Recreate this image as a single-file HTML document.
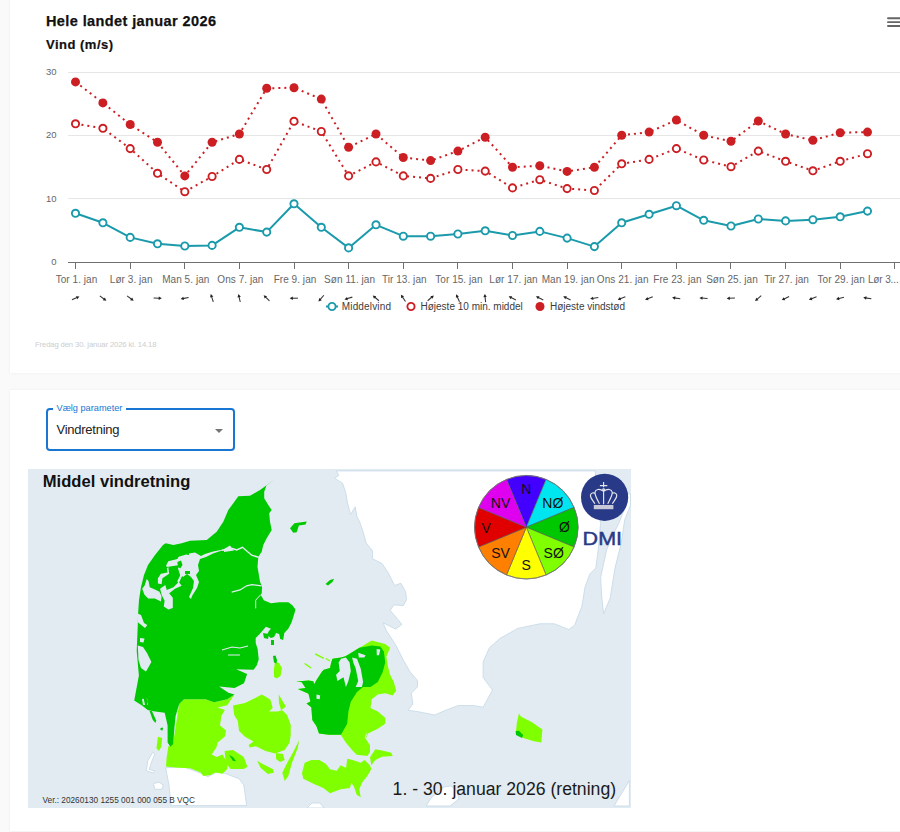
<!DOCTYPE html>
<html><head><meta charset="utf-8"><style>
html,body{margin:0;padding:0;}
body{width:900px;height:832px;overflow:hidden;background:#fafafa;position:relative;font-family:"Liberation Sans",sans-serif;}
.card{position:absolute;left:10px;right:-10px;background:#fff;box-shadow:0 0 3px rgba(0,0,0,0.06);}
#c1{top:-10px;height:383px;}
#c2{top:390px;height:441px;}
.chart{position:absolute;left:0;top:0;}
.t1{position:absolute;left:46px;top:13px;font-size:14.5px;letter-spacing:0.4px;font-weight:bold;color:#111;white-space:nowrap;-webkit-text-stroke:0.25px #111;}
.t2{position:absolute;left:46px;top:37.3px;font-size:13px;letter-spacing:0.5px;font-weight:bold;color:#111;white-space:nowrap;-webkit-text-stroke:0.2px #111;}
.foot{position:absolute;left:35px;top:339.5px;font-size:7.7px;letter-spacing:-0.13px;color:#cdcdcd;white-space:nowrap;}
.sel{position:absolute;left:46px;top:408px;width:185px;height:39px;border:2px solid #1976d2;border-radius:4px;}
.sel .lg{position:absolute;left:5px;top:-8px;background:#fff;padding:0 3.5px;font-size:9.2px;color:#1976d2;white-space:nowrap;line-height:12px;}
.sel .val{position:absolute;left:8.5px;top:12px;font-size:13px;letter-spacing:-0.25px;color:#222;white-space:nowrap;}
.sel .arr{position:absolute;left:167px;top:19px;width:0;height:0;border-left:4px solid transparent;border-right:4px solid transparent;border-top:4px solid #757575;}
.map{position:absolute;left:28px;top:469px;}
</style></head><body>
<div class="card" id="c1"></div>
<div class="card" id="c2"></div>
<svg class="chart" width="900" height="373" viewBox="0 0 900 373" font-family="Liberation Sans, sans-serif"><path d="M68 198.5H900" stroke="#e6e6e6" stroke-width="1"/><path d="M68 135.5H900" stroke="#e6e6e6" stroke-width="1"/><path d="M68 72.5H900" stroke="#e6e6e6" stroke-width="1"/><path d="M68 262.5H900" stroke="#707070" stroke-width="1"/><path d="M75.5 262V269" stroke="#707070" stroke-width="1"/><path d="M130.5 262V269" stroke="#707070" stroke-width="1"/><path d="M184.5 262V269" stroke="#707070" stroke-width="1"/><path d="M239.5 262V269" stroke="#707070" stroke-width="1"/><path d="M294.5 262V269" stroke="#707070" stroke-width="1"/><path d="M348.5 262V269" stroke="#707070" stroke-width="1"/><path d="M403.5 262V269" stroke="#707070" stroke-width="1"/><path d="M457.5 262V269" stroke="#707070" stroke-width="1"/><path d="M512.5 262V269" stroke="#707070" stroke-width="1"/><path d="M567.5 262V269" stroke="#707070" stroke-width="1"/><path d="M621.5 262V269" stroke="#707070" stroke-width="1"/><path d="M676.5 262V269" stroke="#707070" stroke-width="1"/><path d="M730.5 262V269" stroke="#707070" stroke-width="1"/><path d="M785.5 262V269" stroke="#707070" stroke-width="1"/><path d="M840.5 262V269" stroke="#707070" stroke-width="1"/><path d="M894.5 262V269" stroke="#707070" stroke-width="1"/><text x="56.6" y="265.3" text-anchor="end" fill="#666" font-size="9.5">0</text><text x="56.6" y="201.8" text-anchor="end" fill="#666" font-size="9.5">10</text><text x="56.6" y="138.4" text-anchor="end" fill="#666" font-size="9.5">20</text><text x="56.6" y="74.9" text-anchor="end" fill="#666" font-size="9.5">30</text><text x="898.6" y="282.5" text-anchor="end" fill="#666" font-size="10" letter-spacing="-0.12">Lør 3...</text><text x="76.5" y="282.5" text-anchor="middle" fill="#666" font-size="10" letter-spacing="0.05">Tor 1. jan</text><text x="131.2" y="282.5" text-anchor="middle" fill="#666" font-size="10" letter-spacing="0.05">Lør 3. jan</text><text x="185.8" y="282.5" text-anchor="middle" fill="#666" font-size="10" letter-spacing="0.05">Man 5. jan</text><text x="240.4" y="282.5" text-anchor="middle" fill="#666" font-size="10" letter-spacing="0.05">Ons 7. jan</text><text x="295.0" y="282.5" text-anchor="middle" fill="#666" font-size="10" letter-spacing="0.05">Fre 9. jan</text><text x="349.6" y="282.5" text-anchor="middle" fill="#666" font-size="10" letter-spacing="0.05">Søn 11. jan</text><text x="404.3" y="282.5" text-anchor="middle" fill="#666" font-size="10" letter-spacing="0.05">Tir 13. jan</text><text x="458.9" y="282.5" text-anchor="middle" fill="#666" font-size="10" letter-spacing="0.05">Tor 15. jan</text><text x="513.5" y="282.5" text-anchor="middle" fill="#666" font-size="10" letter-spacing="0.05">Lør 17. jan</text><text x="568.1" y="282.5" text-anchor="middle" fill="#666" font-size="10" letter-spacing="0.05">Man 19. jan</text><text x="622.7" y="282.5" text-anchor="middle" fill="#666" font-size="10" letter-spacing="0.05">Ons 21. jan</text><text x="677.4" y="282.5" text-anchor="middle" fill="#666" font-size="10" letter-spacing="0.05">Fre 23. jan</text><text x="732.0" y="282.5" text-anchor="middle" fill="#666" font-size="10" letter-spacing="0.05">Søn 25. jan</text><text x="786.6" y="282.5" text-anchor="middle" fill="#666" font-size="10" letter-spacing="0.05">Tir 27. jan</text><text x="841.2" y="282.5" text-anchor="middle" fill="#666" font-size="10" letter-spacing="0.05">Tor 29. jan</text><path d="M75.5 81.9 L102.9 102.9 L130.2 124.5 L157.5 142.2 L184.8 175.9 L212.1 142.2 L239.4 134.0 L266.7 88.3 L294.0 87.7 L321.3 99.1 L348.6 147.3 L376.0 134.0 L403.3 157.5 L430.6 160.6 L457.9 151.1 L485.2 137.2 L512.5 167.3 L539.8 165.7 L567.1 171.4 L594.4 167.3 L621.7 135.3 L649.1 132.1 L676.4 120.0 L703.7 135.3 L731.0 141.3 L758.3 121.0 L785.6 134.0 L812.9 140.3 L840.2 132.7 L867.5 132.1" fill="none" stroke="#cc1f23" stroke-width="2" stroke-dasharray="2,4"/><path d="M75.5 123.8 L102.9 128.3 L130.2 148.6 L157.5 173.3 L184.8 191.7 L212.1 176.5 L239.4 159.4 L266.7 169.5 L294.0 121.3 L321.3 131.5 L348.6 175.9 L376.0 161.9 L403.3 175.9 L430.6 178.4 L457.9 169.5 L485.2 171.1 L512.5 187.9 L539.8 179.7 L567.1 188.6 L594.4 190.5 L621.7 163.8 L649.1 159.4 L676.4 148.6 L703.7 160.0 L731.0 166.7 L758.3 151.1 L785.6 161.3 L812.9 170.8 L840.2 161.3 L867.5 153.7" fill="none" stroke="#cc1f23" stroke-width="2" stroke-dasharray="2,4"/><path d="M75.5 213.3 L102.9 222.8 L130.2 237.4 L157.5 243.8 L184.8 246.0 L212.1 245.4 L239.4 227.3 L266.7 232.1 L294.0 203.8 L321.3 227.3 L348.6 247.9 L376.0 224.8 L403.3 236.2 L430.6 236.2 L457.9 234.0 L485.2 230.8 L512.5 235.5 L539.8 231.4 L567.1 238.1 L594.4 246.6 L621.7 222.8 L649.1 214.3 L676.4 205.7 L703.7 220.3 L731.0 226.0 L758.3 219.0 L785.6 220.9 L812.9 219.7 L840.2 216.8 L867.5 211.1" fill="none" stroke="#1a9aab" stroke-width="2" stroke-linejoin="round"/><circle cx="75.5" cy="81.9" r="4.5" fill="#cc1f23"/><circle cx="102.9" cy="102.9" r="4.5" fill="#cc1f23"/><circle cx="130.2" cy="124.5" r="4.5" fill="#cc1f23"/><circle cx="157.5" cy="142.2" r="4.5" fill="#cc1f23"/><circle cx="184.8" cy="175.9" r="4.5" fill="#cc1f23"/><circle cx="212.1" cy="142.2" r="4.5" fill="#cc1f23"/><circle cx="239.4" cy="134.0" r="4.5" fill="#cc1f23"/><circle cx="266.7" cy="88.3" r="4.5" fill="#cc1f23"/><circle cx="294.0" cy="87.7" r="4.5" fill="#cc1f23"/><circle cx="321.3" cy="99.1" r="4.5" fill="#cc1f23"/><circle cx="348.6" cy="147.3" r="4.5" fill="#cc1f23"/><circle cx="376.0" cy="134.0" r="4.5" fill="#cc1f23"/><circle cx="403.3" cy="157.5" r="4.5" fill="#cc1f23"/><circle cx="430.6" cy="160.6" r="4.5" fill="#cc1f23"/><circle cx="457.9" cy="151.1" r="4.5" fill="#cc1f23"/><circle cx="485.2" cy="137.2" r="4.5" fill="#cc1f23"/><circle cx="512.5" cy="167.3" r="4.5" fill="#cc1f23"/><circle cx="539.8" cy="165.7" r="4.5" fill="#cc1f23"/><circle cx="567.1" cy="171.4" r="4.5" fill="#cc1f23"/><circle cx="594.4" cy="167.3" r="4.5" fill="#cc1f23"/><circle cx="621.7" cy="135.3" r="4.5" fill="#cc1f23"/><circle cx="649.1" cy="132.1" r="4.5" fill="#cc1f23"/><circle cx="676.4" cy="120.0" r="4.5" fill="#cc1f23"/><circle cx="703.7" cy="135.3" r="4.5" fill="#cc1f23"/><circle cx="731.0" cy="141.3" r="4.5" fill="#cc1f23"/><circle cx="758.3" cy="121.0" r="4.5" fill="#cc1f23"/><circle cx="785.6" cy="134.0" r="4.5" fill="#cc1f23"/><circle cx="812.9" cy="140.3" r="4.5" fill="#cc1f23"/><circle cx="840.2" cy="132.7" r="4.5" fill="#cc1f23"/><circle cx="867.5" cy="132.1" r="4.5" fill="#cc1f23"/><circle cx="75.5" cy="123.8" r="3.6" fill="#fff" stroke="#cc1f23" stroke-width="1.9"/><circle cx="102.9" cy="128.3" r="3.6" fill="#fff" stroke="#cc1f23" stroke-width="1.9"/><circle cx="130.2" cy="148.6" r="3.6" fill="#fff" stroke="#cc1f23" stroke-width="1.9"/><circle cx="157.5" cy="173.3" r="3.6" fill="#fff" stroke="#cc1f23" stroke-width="1.9"/><circle cx="184.8" cy="191.7" r="3.6" fill="#fff" stroke="#cc1f23" stroke-width="1.9"/><circle cx="212.1" cy="176.5" r="3.6" fill="#fff" stroke="#cc1f23" stroke-width="1.9"/><circle cx="239.4" cy="159.4" r="3.6" fill="#fff" stroke="#cc1f23" stroke-width="1.9"/><circle cx="266.7" cy="169.5" r="3.6" fill="#fff" stroke="#cc1f23" stroke-width="1.9"/><circle cx="294.0" cy="121.3" r="3.6" fill="#fff" stroke="#cc1f23" stroke-width="1.9"/><circle cx="321.3" cy="131.5" r="3.6" fill="#fff" stroke="#cc1f23" stroke-width="1.9"/><circle cx="348.6" cy="175.9" r="3.6" fill="#fff" stroke="#cc1f23" stroke-width="1.9"/><circle cx="376.0" cy="161.9" r="3.6" fill="#fff" stroke="#cc1f23" stroke-width="1.9"/><circle cx="403.3" cy="175.9" r="3.6" fill="#fff" stroke="#cc1f23" stroke-width="1.9"/><circle cx="430.6" cy="178.4" r="3.6" fill="#fff" stroke="#cc1f23" stroke-width="1.9"/><circle cx="457.9" cy="169.5" r="3.6" fill="#fff" stroke="#cc1f23" stroke-width="1.9"/><circle cx="485.2" cy="171.1" r="3.6" fill="#fff" stroke="#cc1f23" stroke-width="1.9"/><circle cx="512.5" cy="187.9" r="3.6" fill="#fff" stroke="#cc1f23" stroke-width="1.9"/><circle cx="539.8" cy="179.7" r="3.6" fill="#fff" stroke="#cc1f23" stroke-width="1.9"/><circle cx="567.1" cy="188.6" r="3.6" fill="#fff" stroke="#cc1f23" stroke-width="1.9"/><circle cx="594.4" cy="190.5" r="3.6" fill="#fff" stroke="#cc1f23" stroke-width="1.9"/><circle cx="621.7" cy="163.8" r="3.6" fill="#fff" stroke="#cc1f23" stroke-width="1.9"/><circle cx="649.1" cy="159.4" r="3.6" fill="#fff" stroke="#cc1f23" stroke-width="1.9"/><circle cx="676.4" cy="148.6" r="3.6" fill="#fff" stroke="#cc1f23" stroke-width="1.9"/><circle cx="703.7" cy="160.0" r="3.6" fill="#fff" stroke="#cc1f23" stroke-width="1.9"/><circle cx="731.0" cy="166.7" r="3.6" fill="#fff" stroke="#cc1f23" stroke-width="1.9"/><circle cx="758.3" cy="151.1" r="3.6" fill="#fff" stroke="#cc1f23" stroke-width="1.9"/><circle cx="785.6" cy="161.3" r="3.6" fill="#fff" stroke="#cc1f23" stroke-width="1.9"/><circle cx="812.9" cy="170.8" r="3.6" fill="#fff" stroke="#cc1f23" stroke-width="1.9"/><circle cx="840.2" cy="161.3" r="3.6" fill="#fff" stroke="#cc1f23" stroke-width="1.9"/><circle cx="867.5" cy="153.7" r="3.6" fill="#fff" stroke="#cc1f23" stroke-width="1.9"/><circle cx="75.5" cy="213.3" r="3.6" fill="#fff" stroke="#1a9aab" stroke-width="1.9"/><circle cx="102.9" cy="222.8" r="3.6" fill="#fff" stroke="#1a9aab" stroke-width="1.9"/><circle cx="130.2" cy="237.4" r="3.6" fill="#fff" stroke="#1a9aab" stroke-width="1.9"/><circle cx="157.5" cy="243.8" r="3.6" fill="#fff" stroke="#1a9aab" stroke-width="1.9"/><circle cx="184.8" cy="246.0" r="3.6" fill="#fff" stroke="#1a9aab" stroke-width="1.9"/><circle cx="212.1" cy="245.4" r="3.6" fill="#fff" stroke="#1a9aab" stroke-width="1.9"/><circle cx="239.4" cy="227.3" r="3.6" fill="#fff" stroke="#1a9aab" stroke-width="1.9"/><circle cx="266.7" cy="232.1" r="3.6" fill="#fff" stroke="#1a9aab" stroke-width="1.9"/><circle cx="294.0" cy="203.8" r="3.6" fill="#fff" stroke="#1a9aab" stroke-width="1.9"/><circle cx="321.3" cy="227.3" r="3.6" fill="#fff" stroke="#1a9aab" stroke-width="1.9"/><circle cx="348.6" cy="247.9" r="3.6" fill="#fff" stroke="#1a9aab" stroke-width="1.9"/><circle cx="376.0" cy="224.8" r="3.6" fill="#fff" stroke="#1a9aab" stroke-width="1.9"/><circle cx="403.3" cy="236.2" r="3.6" fill="#fff" stroke="#1a9aab" stroke-width="1.9"/><circle cx="430.6" cy="236.2" r="3.6" fill="#fff" stroke="#1a9aab" stroke-width="1.9"/><circle cx="457.9" cy="234.0" r="3.6" fill="#fff" stroke="#1a9aab" stroke-width="1.9"/><circle cx="485.2" cy="230.8" r="3.6" fill="#fff" stroke="#1a9aab" stroke-width="1.9"/><circle cx="512.5" cy="235.5" r="3.6" fill="#fff" stroke="#1a9aab" stroke-width="1.9"/><circle cx="539.8" cy="231.4" r="3.6" fill="#fff" stroke="#1a9aab" stroke-width="1.9"/><circle cx="567.1" cy="238.1" r="3.6" fill="#fff" stroke="#1a9aab" stroke-width="1.9"/><circle cx="594.4" cy="246.6" r="3.6" fill="#fff" stroke="#1a9aab" stroke-width="1.9"/><circle cx="621.7" cy="222.8" r="3.6" fill="#fff" stroke="#1a9aab" stroke-width="1.9"/><circle cx="649.1" cy="214.3" r="3.6" fill="#fff" stroke="#1a9aab" stroke-width="1.9"/><circle cx="676.4" cy="205.7" r="3.6" fill="#fff" stroke="#1a9aab" stroke-width="1.9"/><circle cx="703.7" cy="220.3" r="3.6" fill="#fff" stroke="#1a9aab" stroke-width="1.9"/><circle cx="731.0" cy="226.0" r="3.6" fill="#fff" stroke="#1a9aab" stroke-width="1.9"/><circle cx="758.3" cy="219.0" r="3.6" fill="#fff" stroke="#1a9aab" stroke-width="1.9"/><circle cx="785.6" cy="220.9" r="3.6" fill="#fff" stroke="#1a9aab" stroke-width="1.9"/><circle cx="812.9" cy="219.7" r="3.6" fill="#fff" stroke="#1a9aab" stroke-width="1.9"/><circle cx="840.2" cy="216.8" r="3.6" fill="#fff" stroke="#1a9aab" stroke-width="1.9"/><circle cx="867.5" cy="211.1" r="3.6" fill="#fff" stroke="#1a9aab" stroke-width="1.9"/><g transform="translate(75.5 298.2) rotate(-24)"><path d="M-3.9 0H2.2" stroke="#333" stroke-width="1.05"/><path d="M4.3 0L1.2 -1.7L1.2 1.7Z" fill="#222"/></g><g transform="translate(102.9 298.2) rotate(37)"><path d="M-3.9 0H2.2" stroke="#333" stroke-width="1.05"/><path d="M4.3 0L1.2 -1.7L1.2 1.7Z" fill="#222"/></g><g transform="translate(130.2 298.2) rotate(37)"><path d="M-3.9 0H2.2" stroke="#333" stroke-width="1.05"/><path d="M4.3 0L1.2 -1.7L1.2 1.7Z" fill="#222"/></g><g transform="translate(157.5 298.2) rotate(2)"><path d="M-3.9 0H2.2" stroke="#333" stroke-width="1.05"/><path d="M4.3 0L1.2 -1.7L1.2 1.7Z" fill="#222"/></g><g transform="translate(184.8 298.2) rotate(169)"><path d="M-3.9 0H2.2" stroke="#333" stroke-width="1.05"/><path d="M4.3 0L1.2 -1.7L1.2 1.7Z" fill="#222"/></g><g transform="translate(212.1 298.2) rotate(-108)"><path d="M-3.9 0H2.2" stroke="#333" stroke-width="1.05"/><path d="M4.3 0L1.2 -1.7L1.2 1.7Z" fill="#222"/></g><g transform="translate(239.4 298.2) rotate(-102.5)"><path d="M-3.9 0H2.2" stroke="#333" stroke-width="1.05"/><path d="M4.3 0L1.2 -1.7L1.2 1.7Z" fill="#222"/></g><g transform="translate(266.7 298.2) rotate(-135)"><path d="M-3.9 0H2.2" stroke="#333" stroke-width="1.05"/><path d="M4.3 0L1.2 -1.7L1.2 1.7Z" fill="#222"/></g><g transform="translate(294.0 298.2) rotate(180)"><path d="M-3.9 0H2.2" stroke="#333" stroke-width="1.05"/><path d="M4.3 0L1.2 -1.7L1.2 1.7Z" fill="#222"/></g><g transform="translate(321.3 298.2) rotate(131)"><path d="M-3.9 0H2.2" stroke="#333" stroke-width="1.05"/><path d="M4.3 0L1.2 -1.7L1.2 1.7Z" fill="#222"/></g><g transform="translate(348.6 298.2) rotate(164)"><path d="M-3.9 0H2.2" stroke="#333" stroke-width="1.05"/><path d="M4.3 0L1.2 -1.7L1.2 1.7Z" fill="#222"/></g><g transform="translate(376.0 298.2) rotate(-139)"><path d="M-3.9 0H2.2" stroke="#333" stroke-width="1.05"/><path d="M4.3 0L1.2 -1.7L1.2 1.7Z" fill="#222"/></g><g transform="translate(403.3 298.2) rotate(-124)"><path d="M-3.9 0H2.2" stroke="#333" stroke-width="1.05"/><path d="M4.3 0L1.2 -1.7L1.2 1.7Z" fill="#222"/></g><g transform="translate(430.6 298.2) rotate(-41)"><path d="M-3.9 0H2.2" stroke="#333" stroke-width="1.05"/><path d="M4.3 0L1.2 -1.7L1.2 1.7Z" fill="#222"/></g><g transform="translate(457.9 298.2) rotate(-114)"><path d="M-3.9 0H2.2" stroke="#333" stroke-width="1.05"/><path d="M4.3 0L1.2 -1.7L1.2 1.7Z" fill="#222"/></g><g transform="translate(485.2 298.2) rotate(-96)"><path d="M-3.9 0H2.2" stroke="#333" stroke-width="1.05"/><path d="M4.3 0L1.2 -1.7L1.2 1.7Z" fill="#222"/></g><g transform="translate(512.5 298.2) rotate(-153)"><path d="M-3.9 0H2.2" stroke="#333" stroke-width="1.05"/><path d="M4.3 0L1.2 -1.7L1.2 1.7Z" fill="#222"/></g><g transform="translate(539.8 298.2) rotate(-153)"><path d="M-3.9 0H2.2" stroke="#333" stroke-width="1.05"/><path d="M4.3 0L1.2 -1.7L1.2 1.7Z" fill="#222"/></g><g transform="translate(567.1 298.2) rotate(-153)"><path d="M-3.9 0H2.2" stroke="#333" stroke-width="1.05"/><path d="M4.3 0L1.2 -1.7L1.2 1.7Z" fill="#222"/></g><g transform="translate(594.4 298.2) rotate(171)"><path d="M-3.9 0H2.2" stroke="#333" stroke-width="1.05"/><path d="M4.3 0L1.2 -1.7L1.2 1.7Z" fill="#222"/></g><g transform="translate(621.7 298.2) rotate(159)"><path d="M-3.9 0H2.2" stroke="#333" stroke-width="1.05"/><path d="M4.3 0L1.2 -1.7L1.2 1.7Z" fill="#222"/></g><g transform="translate(649.1 298.2) rotate(159)"><path d="M-3.9 0H2.2" stroke="#333" stroke-width="1.05"/><path d="M4.3 0L1.2 -1.7L1.2 1.7Z" fill="#222"/></g><g transform="translate(676.4 298.2) rotate(-172)"><path d="M-3.9 0H2.2" stroke="#333" stroke-width="1.05"/><path d="M4.3 0L1.2 -1.7L1.2 1.7Z" fill="#222"/></g><g transform="translate(703.7 298.2) rotate(-177)"><path d="M-3.9 0H2.2" stroke="#333" stroke-width="1.05"/><path d="M4.3 0L1.2 -1.7L1.2 1.7Z" fill="#222"/></g><g transform="translate(731.0 298.2) rotate(177)"><path d="M-3.9 0H2.2" stroke="#333" stroke-width="1.05"/><path d="M4.3 0L1.2 -1.7L1.2 1.7Z" fill="#222"/></g><g transform="translate(758.3 298.2) rotate(139)"><path d="M-3.9 0H2.2" stroke="#333" stroke-width="1.05"/><path d="M4.3 0L1.2 -1.7L1.2 1.7Z" fill="#222"/></g><g transform="translate(785.6 298.2) rotate(154)"><path d="M-3.9 0H2.2" stroke="#333" stroke-width="1.05"/><path d="M4.3 0L1.2 -1.7L1.2 1.7Z" fill="#222"/></g><g transform="translate(812.9 298.2) rotate(159)"><path d="M-3.9 0H2.2" stroke="#333" stroke-width="1.05"/><path d="M4.3 0L1.2 -1.7L1.2 1.7Z" fill="#222"/></g><g transform="translate(840.2 298.2) rotate(165)"><path d="M-3.9 0H2.2" stroke="#333" stroke-width="1.05"/><path d="M4.3 0L1.2 -1.7L1.2 1.7Z" fill="#222"/></g><g transform="translate(867.5 298.2) rotate(-172)"><path d="M-3.9 0H2.2" stroke="#333" stroke-width="1.05"/><path d="M4.3 0L1.2 -1.7L1.2 1.7Z" fill="#222"/></g><path d="M326 306.5H338" stroke="#1a9aab" stroke-width="2"/><circle cx="332" cy="306.5" r="3.6" fill="#fff" stroke="#1a9aab" stroke-width="1.9"/><text x="341.8" y="310.3" letter-spacing="0.15" fill="#3c3c3c" font-size="10">Middelvind</text><circle cx="411" cy="306.5" r="3.6" fill="#fff" stroke="#cc1f23" stroke-width="1.9"/><text x="420.5" y="310.3" fill="#3c3c3c" font-size="10">Højeste 10 min. middel</text><circle cx="540" cy="306.5" r="4.5" fill="#cc1f23"/><text x="550" y="310.3" fill="#3c3c3c" font-size="10">Højeste vindstød</text><path d="M888 18.3H901M888 22.15H901M888 26H901" stroke="#666" stroke-width="1.9" stroke-linecap="round"/></svg>
<div class="t1">Hele landet januar 2026</div>
<div class="t2">Vind (m/s)</div>
<div class="foot">Fredag den 30. januar 2026 kl. 14.18</div>
<div class="sel"><div class="lg">Vælg parameter</div><div class="val">Vindretning</div><div class="arr"></div></div>
<svg class="map" width="603" height="339" viewBox="28 469 603 339" font-family="Liberation Sans, sans-serif"><rect x="28" y="469" width="603" height="339" fill="#e1ebf1"/><path d="M336.3 470.9 L338.7 475.3 L334.7 478.4 L342.6 483.2 L345.7 492.6 L347.3 502.1 L350.5 514.7 L355.2 506.8 L356.8 516.2 L359.9 522.5 L363.1 532.0 L366.2 543.0 L372.5 550.9 L372.5 558.8 L382.0 563.5 L388.3 572.9 L394.6 585.5 L400.9 583.2 L405.6 591.8 L406.6 599.4 L403.4 605.6 L394.0 604.8 L390.2 610.3 L401.9 624.4 L395.6 629.1 L383.1 622.8 L386.3 630.6 L395.6 644.7 L403.4 660.3 L409.7 671.3 L417.5 680.6 L417.5 686.9 L411.3 693.1 L412.8 704.1 L408.1 710.3 L419.1 711.9 L434.7 715.0 L445.6 710.3 L458.1 705.6 L473.8 705.6 L483.1 707.2 L492.5 690.0 L483.1 677.5 L483.1 661.9 L489.4 647.8 L500.0 638.4 L517.9 628.4 L540.0 623.8 L554.4 623.8 L568.8 629.6 L574.6 625.3 L581.8 606.5 L585.0 587.3 L589.8 574.0 L595.8 568.0 L598.2 550.0 L600.6 523.6 L598.0 505.0 L595.4 474.0 L595.4 470.9Z" fill="#ffffff" stroke="#c8dbe9" stroke-width="0.9"/><path d="M627.0 494.0 L630.5 494.0 L630.5 505.0 L624.7 520.0 L621.0 544.0 L615.0 568.0 L610.2 598.1 L603.6 613.8 L601.8 598.1 L600.6 577.7 L606.6 550.0 L611.4 538.0 L618.7 523.6 L624.0 510.0Z" fill="#ffffff" stroke="#c8dbe9" stroke-width="0.9"/><path d="M165.6 767.8 L183.3 766.7 L201.1 773.3 L207.8 776.7 L218.9 771.1 L229.4 775.1 L239.0 778.7 L243.8 785.0 L246.7 805.6 L171.1 805.6 L168.9 784.4Z" fill="#ffffff" stroke="#c8dbe9" stroke-width="0.9"/><path d="M152.7 752.4 L154.8 753.8 L152.0 760.9 L149.1 769.4 L154.8 770.9 L153.4 773.0 L146.3 770.9 L147.7 760.9Z" fill="#ffffff" stroke="#c8dbe9" stroke-width="0.9"/><path d="M153.4 783.6 L159.0 782.2 L163.3 785.0 L161.9 789.3 L154.8 789.3Z" fill="#ffffff" stroke="#c8dbe9" stroke-width="0.9"/><path d="M307.0 808.0 L312.0 803.0 L320.0 803.0 L324.0 808.0Z" fill="#ffffff" stroke="#c8dbe9" stroke-width="0.9"/><path d="M614.0 806.0 L629.4 780.5 L629.4 806.0Z" fill="#ffffff" stroke="#c8dbe9" stroke-width="0.9"/><path d="M426.0 806.0 L431.0 798.0 L437.0 793.0 L444.0 787.0 L451.0 786.0 L457.0 791.0 L459.0 799.0 L450.0 806.0Z" fill="#ffffff" stroke="#c8dbe9" stroke-width="0.9"/><path d="M179.2 704.0 L184.0 699.2 L205.6 699.2 L214.0 702.2 L227.3 699.2 L234.5 694.4 L232.0 698.0 L227.3 705.2 L217.7 707.6 L224.9 710.0 L221.3 716.0 L220.0 725.6 L226.1 730.5 L224.9 736.5 L217.7 742.5 L216.5 747.3 L211.7 754.5 L216.5 756.9 L222.5 754.5 L227.3 762.9 L227.3 768.9 L222.5 773.7 L215.3 772.5 L210.5 774.9 L203.2 776.1 L200.8 772.5 L190.0 768.3 L178.0 767.7 L166.0 766.5 L166.6 758.1 L168.4 746.1 L170.8 746.1 L173.2 742.5Z" fill="#80ff00" /><path d="M275.0 479.2 L266.7 485.0 L264.2 491.7 L264.2 498.3 L268.3 505.0 L271.7 510.0 L269.2 513.3 L270.0 521.7 L271.7 530.0 L266.7 538.3 L263.3 545.0 L261.7 551.7 L258.3 556.7 L257.5 566.7 L260.0 581.7 L262.1 586.7 L261.7 593.3 L260.8 595.1 L263.8 600.2 L271.0 603.3 L279.2 602.3 L288.3 602.3 L292.4 605.3 L295.5 609.4 L293.5 616.6 L291.4 622.7 L288.3 628.8 L284.3 632.9 L283.2 640.1 L280.2 639.0 L279.2 633.9 L276.1 632.9 L274.0 637.0 L271.0 638.0 L266.9 635.0 L268.9 630.9 L271.0 628.8 L265.9 626.8 L259.7 633.9 L255.7 638.0 L255.7 643.1 L257.7 649.3 L258.7 659.5 L256.7 665.6 L253.6 669.7 L236.2 669.3 L247.1 674.0 L244.0 683.3 L234.6 688.0 L219.1 686.4 L228.4 692.7 L234.5 694.4 L227.3 699.2 L214.0 702.2 L205.6 699.2 L184.0 699.2 L179.2 704.0 L175.6 716.0 L174.4 728.0 L173.2 743.9 L170.4 746.7 L167.6 742.5 L167.6 725.5 L164.7 712.7 L153.4 711.3 L147.7 709.9 L142.0 705.6 L134.2 700.6 L138.9 675.6 L136.7 651.0 L137.8 624.4 L138.0 615.0 L139.0 600.0 L141.0 587.0 L144.0 575.0 L148.0 565.0 L155.0 555.0 L163.0 545.0 L165.8 543.3 L173.3 545.0 L181.7 543.3 L190.0 540.8 L206.7 540.0 L216.7 531.7 L223.3 521.7 L228.3 510.0 L233.3 503.3 L238.3 496.3 L250.0 495.8 L260.0 490.0Z" fill="#00c800" /><path d="M142.2 588.7 L144.5 585.8 L146.7 579.1 L148.6 581.3 L149.7 587.3 L154.9 589.5 L159.4 591.7 L161.6 596.2 L160.9 601.4 L154.9 598.4 L148.2 598.4 L144.5 594.7Z" fill="#e1ebf1" /><path d="M160.1 588.7 L165.3 585.0 L166.8 590.2 L169.1 593.2 L172.8 597.7 L172.8 608.1 L168.3 609.6 L163.8 606.6 L164.6 600.7 L161.6 594.7Z" fill="#e1ebf1" /><path d="M166.1 590.2 L173.5 587.3 L178.7 582.0 L181.7 585.8 L175.0 588.7 L168.3 594.0Z" fill="#e1ebf1" /><path d="M157.9 578.3 L160.9 573.8 L167.6 572.4 L166.8 568.6 L168.3 567.1 L169.1 573.8 L162.4 578.3 L161.6 584.3 L157.9 583.5Z" fill="#e1ebf1" /><path d="M166.1 565.6 L168.3 561.2 L177.3 558.9 L178.7 556.7 L186.2 554.5 L190.0 555.2 L190.0 572.4 L186.2 572.4 L181.7 576.8 L178.7 583.5 L177.3 581.3 L180.2 575.3 L178.0 568.6 L180.2 564.9 L176.5 565.6 L166.8 567.1Z" fill="#e1ebf1" /><path d="M177.3 561.9 L181.0 560.4 L182.5 564.9 L180.2 568.6 L178.0 566.4Z" fill="#00c800" /><path d="M185.5 572.4 L190.0 571.6 L190.0 576.1 L186.9 576.1Z" fill="#00c800" /><path d="M189.0 553.5 L195.0 552.5 L201.0 556.0 L205.0 554.0 L213.0 551.5 L223.0 549.5 L225.0 549.5 L213.0 553.5 L206.0 557.0 L200.0 559.0 L198.0 565.0 L199.0 571.0 L196.0 575.0 L199.0 582.0 L197.0 588.0 L192.0 596.0 L191.0 599.0 L189.0 597.0 L193.0 588.0 L194.0 581.0 L191.0 577.0 L187.0 574.0 L183.0 577.0 L181.0 574.0 L184.0 568.0 L188.0 563.0 L189.0 557.0Z" fill="#e1ebf1" /><path d="M185.0 571.0 L190.0 571.0 L190.0 574.0 L185.0 574.0Z" fill="#00c800" /><path d="M222 550.3L232.5 548.5L236.7 550L242.5 547.3L251.7 555.2L258.5 557.2" stroke="#e1ebf1" stroke-width="1.5" fill="none"/><path d="M224.0 549.0 L230.0 545.4 L234.0 550.5 L224.0 552.0Z" fill="#e1ebf1" /><path d="M137.8 645.5 L143.0 647.0 L147.0 653.0 L151.4 662.0 L146.0 671.6 L141.0 668.0 L138.5 660.0Z" fill="#e1ebf1" /><path d="M137.6 613.5 L141.0 615.0 L144.0 623.0 L147.3 625.0 L145.0 628.0 L140.0 624.0 L137.6 622.0Z" fill="#e1ebf1" /><path d="M140.0 638.0 L144.5 638.5 L143.5 642.5 L140.0 642.0Z" fill="#e1ebf1" /><path d="M142.0 699.0 L147.0 698.0 L148.0 705.0 L143.0 705.0Z" fill="#e1ebf1" /><path d="M231.7 592.1L240 590L246.7 585.8L251.7 584.6L261.7 585.8" stroke="#e1ebf1" stroke-width="1.3" fill="none"/><path d="M260.8 594.6L255.7 600.2L255.7 608.4" stroke="#e1ebf1" stroke-width="1" fill="none"/><path d="M222 650L232 647L240 648L248 646" stroke="#e1ebf1" stroke-width="1.2" fill="none"/><path d="M228 655L240 655" stroke="#e1ebf1" stroke-width="1" fill="none"/><path d="M263.0 633.0 L269.0 634.0 L268.0 639.0 L264.0 638.0Z" fill="#00c800" /><path d="M271.0 640.0 L274.0 640.0 L274.0 645.0 L271.0 645.0Z" fill="#00c800" /><path d="M149.4 710.6 L152.0 711.3 L156.2 720.5 L155.5 722.9 L152.7 719.8Z" fill="#00c800" /><path d="M143.4 697.8 L146.3 697.1 L147.7 701.3 L147.0 707.7 L144.9 704.2Z" fill="#00c800" /><path d="M160.5 728.0 L163.0 727.6 L162.6 730.4 L160.5 730.1Z" fill="#00c800" /><path d="M157.9 736.8 L162.2 737.9 L161.2 746.7 L159.0 751.0 L156.5 748.2Z" fill="#80ff00" /><path d="M290.0 528.2 L294.4 523.3 L306.7 521.6 L305.6 524.4 L298.9 525.6 L296.7 532.2 L293.3 532.7Z" fill="#00c800" /><path d="M325.5 584.0 L330.0 580.0 L334.0 578.8 L332.5 582.0 L328.0 585.5Z" fill="#00c800" /><path d="M275.0 662.0 L279.0 663.0 L282.0 668.0 L280.5 676.0 L277.0 678.5 L274.0 677.0 L273.8 670.0Z" fill="#80ff00" /><path d="M273.0 656.0 L275.5 655.5 L277.0 660.0 L276.5 663.5 L274.0 662.5Z" fill="#00c800" /><path d="M233.0 705.4 L245.0 703.0 L254.7 698.2 L261.9 694.6 L270.3 699.4 L272.7 707.8 L269.1 711.4 L277.5 711.4 L282.3 710.2 L287.1 715.0 L290.7 724.7 L290.7 735.5 L289.5 742.7 L284.7 749.9 L275.1 753.5 L265.5 751.1 L255.9 746.3 L249.8 747.5 L248.6 745.1 L253.5 741.5 L245.0 736.7 L239.0 730.7 L237.8 721.0 L234.2 715.0Z" fill="#80ff00" /><path d="M278.7 694.6 L285.9 706.6 L281.1 710.2 L279.0 703.0Z" fill="#80ff00" /><path d="M224.6 751.1 L233.0 749.9 L243.8 757.1 L247.4 766.7 L243.8 769.1 L230.6 769.1 L225.8 763.1Z" fill="#80ff00" /><path d="M229.0 755.0 L233.0 757.0 L236.0 761.0 L233.0 761.0Z" fill="#00c800" /><path d="M299.1 740.3 L297.9 747.5 L291.9 763.1 L288.3 776.3 L284.7 781.1 L282.3 772.7 L287.1 763.1 L293.1 752.3Z" fill="#80ff00" /><path d="M257.1 760.7 L263.1 764.3 L272.7 769.1 L273.9 772.7 L267.9 773.9 L260.7 767.9Z" fill="#80ff00" /><path d="M276.0 753.0 L283.0 754.0 L284.7 760.0 L280.0 762.0 L276.0 759.0Z" fill="#80ff00" /><path d="M371.7 640.5 L385.2 644.1 L390.1 647.8 L386.4 656.4 L387.6 665.0 L390.1 674.8 L393.8 682.1 L396.2 690.7 L392.5 695.6 L385.2 693.2 L377.8 694.4 L371.7 699.3 L370.5 707.9 L377.8 711.6 L385.2 717.7 L385.2 723.8 L377.8 728.7 L368.0 733.6 L365.6 740.0 L367.3 732.0 L364.7 737.3 L370.0 745.3 L370.0 752.0 L367.3 756.0 L356.7 754.7 L352.7 750.7 L346.0 742.7 L340.7 734.7 L328.8 734.8 L319.0 733.6 L316.5 726.3 L312.3 720.0 L311.3 707.3 L306.5 703.5 L310.4 701.5 L308.5 693.8 L297.9 689.0 L305.6 688.0 L301.7 682.3 L296.0 681.3 L299.8 681.3 L308.5 680.4 L313.3 681.3 L314.2 684.2 L316.2 680.4 L321.9 671.7 L323.8 669.8 L330.0 667.9 L331.2 662.5 L332.5 658.8 L341.0 657.6 L344.7 656.4 L347.2 655.2 L359.4 647.8Z" fill="#80ff00" /><path d="M347.2 655.2 L359.4 647.8 L371.7 645.4 L380.3 646.6 L383.9 651.5 L385.2 662.5 L382.7 672.3 L377.8 682.1 L370.5 687.0 L363.1 687.0 L357.0 691.9 L350.8 701.7 L348.4 711.6 L347.2 723.8 L341.0 734.8 L328.8 734.8 L319.0 733.6 L316.5 726.3 L312.3 720.0 L311.3 707.3 L306.5 703.5 L310.4 701.5 L308.5 693.8 L297.9 689.0 L305.6 688.0 L301.7 682.3 L296.0 681.3 L299.8 681.3 L308.5 680.4 L313.3 681.3 L314.2 684.2 L316.2 680.4 L321.9 671.7 L323.8 669.8 L330.0 667.9 L331.2 662.5 L332.5 658.8 L341.0 657.6 L344.7 656.4 L347.2 655.2Z" fill="#00c800" /><path d="M341.0 658.8 L345.9 657.6 L349.6 662.5 L350.8 671.1 L348.4 680.9 L345.9 687.0 L343.5 677.2 L337.4 680.9 L336.1 674.8 L339.8 671.1 L338.6 662.5Z" fill="#e1ebf1" /><path d="M352.1 657.6 L357.0 658.8 L360.7 668.6 L363.1 682.1 L361.9 687.0 L355.7 687.0 L358.2 680.9 L355.7 668.6 L353.3 662.5Z" fill="#e1ebf1" /><path d="M358.2 652.7 L365.6 655.2 L364.3 657.6 L358.8 657.6Z" fill="#e1ebf1" /><path d="M376.6 649.0 L380.3 649.6 L379.0 655.2 L376.8 655.2Z" fill="#e1ebf1" /><path d="M316.5 694.4 L320.2 695.6 L319.6 699.3 L316.5 698.7Z" fill="#e1ebf1" /><path d="M315.3 654L323.9 658.3M304.6 663.5L311 668M325.8 658.5L330 661" stroke="#80ff00" stroke-width="1.4"/><path d="M304.7 762.7 L311.3 760.0 L319.3 760.0 L326.0 764.0 L330.0 769.3 L336.7 770.7 L340.7 765.3 L346.0 768.0 L347.3 758.7 L352.7 760.0 L360.7 762.7 L364.7 760.0 L370.0 765.3 L371.3 769.3 L367.3 776.0 L362.0 782.7 L359.3 789.3 L360.7 797.3 L356.7 794.7 L354.0 786.7 L351.3 782.7 L350.0 788.0 L340.7 789.3 L330.0 793.3 L323.3 788.0 L314.0 784.0 L303.3 778.7 L302.0 773.3 L303.3 768.0Z" fill="#80ff00" /><path d="M370.0 757.3 L375.3 749.3 L383.3 750.7 L391.3 752.7 L392.7 756.0 L382.0 756.7 L375.3 760.0 L371.3 765.3Z" fill="#80ff00" /><path d="M518.9 713.6 L521.1 716.8 L531.7 722.1 L542.4 729.6 L541.3 742.4 L533.9 741.3 L523.2 738.1 L515.7 733.9 L516.8 723.2Z" fill="#80ff00" /><path d="M515.7 731.0 L519.0 730.7 L523.2 735.0 L522.0 738.1 L516.0 735.0Z" fill="#00c800" /><path d="M526.3 527.2L506.52 479.44A51.7 51.7 0 0 1 546.08 479.44Z" fill="#4400ff" stroke="#555" stroke-width="0.6"/><path d="M526.3 527.2L546.08 479.44A51.7 51.7 0 0 1 574.06 507.42Z" fill="#00e6f0" stroke="#555" stroke-width="0.6"/><path d="M526.3 527.2L574.06 507.42A51.7 51.7 0 0 1 574.06 546.98Z" fill="#00c800" stroke="#555" stroke-width="0.6"/><path d="M526.3 527.2L574.06 546.98A51.7 51.7 0 0 1 546.08 574.96Z" fill="#80ff00" stroke="#555" stroke-width="0.6"/><path d="M526.3 527.2L546.08 574.96A51.7 51.7 0 0 1 506.52 574.96Z" fill="#ffff00" stroke="#555" stroke-width="0.6"/><path d="M526.3 527.2L506.52 574.96A51.7 51.7 0 0 1 478.54 546.98Z" fill="#ff8000" stroke="#555" stroke-width="0.6"/><path d="M526.3 527.2L478.54 546.98A51.7 51.7 0 0 1 478.54 507.42Z" fill="#e00000" stroke="#555" stroke-width="0.6"/><path d="M526.3 527.2L478.54 507.42A51.7 51.7 0 0 1 506.52 479.44Z" fill="#e000f0" stroke="#555" stroke-width="0.6"/><circle cx="526.3" cy="527.2" r="51.7" fill="none" stroke="#777" stroke-width="0.8"/><text x="526.2" y="493.9" text-anchor="middle" font-size="14" fill="#111">N</text><text x="552.8" y="508.3" text-anchor="middle" font-size="14" fill="#111">NØ</text><text x="564.5" y="531.7" text-anchor="middle" font-size="14" fill="#111">Ø</text><text x="553.7" y="557.8" text-anchor="middle" font-size="14" fill="#111">SØ</text><text x="526.2" y="570.4" text-anchor="middle" font-size="14" fill="#111">S</text><text x="500.6" y="557.8" text-anchor="middle" font-size="14" fill="#111">SV</text><text x="486.2" y="532.6" text-anchor="middle" font-size="14" fill="#111">V</text><text x="500.6" y="508.3" text-anchor="middle" font-size="14" fill="#111">NV</text><circle cx="604.6" cy="497.3" r="23.6" fill="#283a87"/><g fill="none" stroke="#e6e6ee" stroke-width="1.15"><path d="M603.6 481.9V487.2M599.9 485.6H607.3"/><path d="M599.5 503.8C597 499 594.5 495 595 492C595.5 489.3 599.5 488.3 603.6 491.2C607.7 488.3 611.7 489.3 612.2 492C612.7 495 610.2 499 607.7 503.8"/><path d="M594.9 503.8C592.5 500 590 497.5 590.5 495C591 493 593 492.3 595.2 493.2"/><path d="M612.3 503.8C614.7 500 617.2 497.5 616.7 495C616.2 493 614.2 492.3 612 493.2"/><path d="M603.6 490.8V504.2"/><circle cx="603.6" cy="489.8" r="0.9"/></g><rect x="593.8" y="505" width="19.6" height="4.2" fill="#c6c7d7"/><text x="582.6" y="544.7" font-size="18.5" fill="#283a87" stroke="#283a87" stroke-width="0.45" textLength="39.5" lengthAdjust="spacingAndGlyphs">DMI</text><text x="42.8" y="487.4" font-size="16.8" font-weight="bold" fill="#111" textLength="147.5" lengthAdjust="spacingAndGlyphs">Middel vindretning</text><text x="392.6" y="795.2" font-size="17.6" fill="#1a1a1a" textLength="223.5" lengthAdjust="spacingAndGlyphs">1. - 30. januar 2026 (retning)</text><text x="42.5" y="803" font-size="8.8" fill="#333" textLength="152.5" lengthAdjust="spacingAndGlyphs">Ver.: 20260130 1255 001 000 055 B VQC</text></svg>
</body></html>
